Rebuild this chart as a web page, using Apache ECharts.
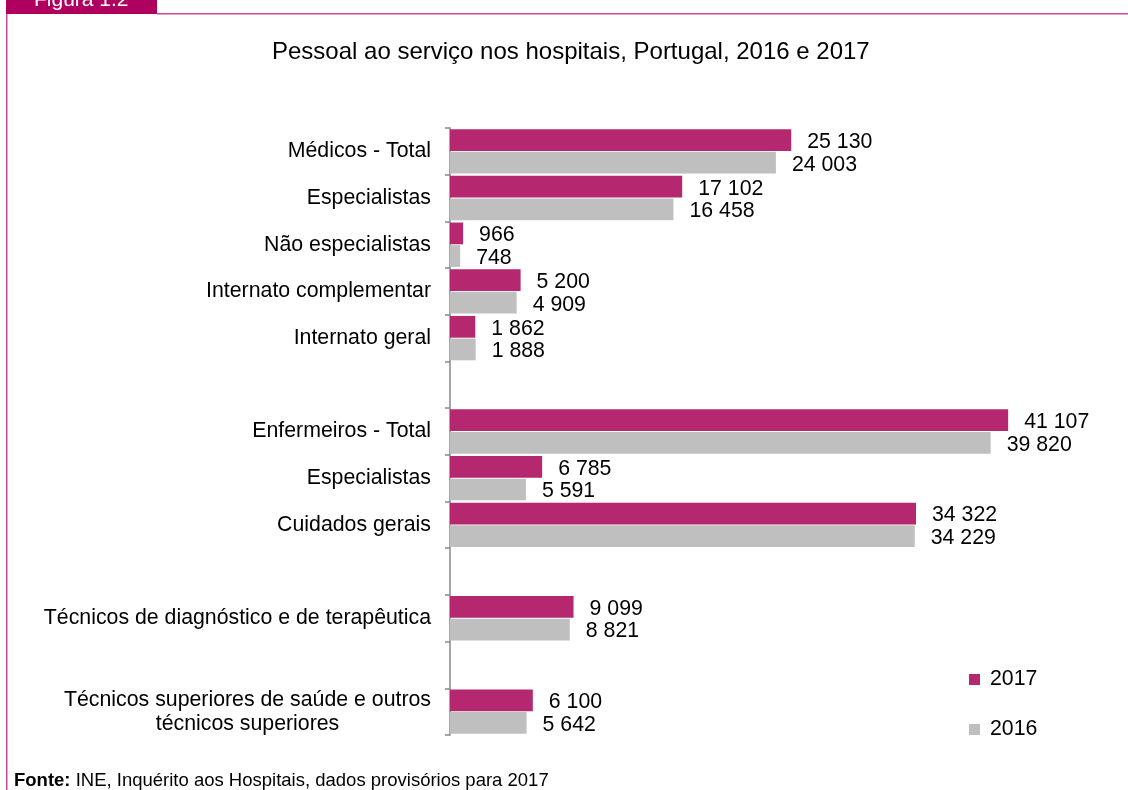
<!DOCTYPE html>
<html>
<head>
<meta charset="utf-8">
<script src="https://cdn.jsdelivr.net/npm/echarts@6/dist/echarts.min.js"></script>
<style>
  html, body { margin: 0; padding: 0; background: #fff; }
  #chart { width: 1128px; height: 790px; }
</style>
</head>
<body>
<div id="chart"></div>
<script>
  // categorias (linhas vazias = separadores entre grupos)
  var categories = [
    'Médicos - Total',
    'Especialistas',
    'Não especialistas',
    'Internato complementar',
    'Internato geral',
    '',
    'Enfermeiros - Total',
    'Especialistas',
    'Cuidados gerais',
    '',
    'Técnicos de diagnóstico e de terapêutica',
    '',
    'Técnicos superiores de saúde e outros\ntécnicos superiores'
  ];
  var values2017 = [25130, 17102, 966, 5200, 1862, null, 41107, 6785, 34322, null, 9099, null, 6100];
  var values2016 = [24003, 16458, 748, 4909, 1888, null, 39820, 5591, 34229, null, 8821, null, 5642];
  var seriesNames = ['2017', '2016'];

  var FONT = '"Liberation Sans", Arial, sans-serif';
  var FS = 21.3;
  var PINK = '#B5276F';
  var GREY = '#BFBFBF';
  var FRAME = '#C8489A';

  // 25130 -> "25 130"
  function fmt(v) {
    return String(v).replace(/\B(?=(\d{3})+(?!\d))/g, ' ');
  }

  function barLabel() {
    return {
      show: true,
      position: 'right',
      distance: 16,
      offset: [0, 2],
      color: '#000',
      fontFamily: FONT,
      fontSize: FS,
      formatter: function (p) { return fmt(p.value); }
    };
  }

  var chart = echarts.init(document.getElementById('chart'));
  chart.setOption({
    animation: false,
    backgroundColor: '#fff',
    title: {
      text: 'Pessoal ao serviço nos hospitais, Portugal, 2016 e 2017',
      left: 267,
      top: 35,
      textStyle: { fontFamily: FONT, fontSize: 24, fontWeight: 'normal', color: '#000' }
    },
    legend: {
      orient: 'vertical',
      left: 969,
      top: 669,
      padding: 0,
      itemWidth: 11,
      itemHeight: 11,
      itemGap: 29,
      icon: 'rect',
      data: seriesNames,
      textStyle: { fontFamily: FONT, fontSize: FS, lineHeight: 20, color: '#000', padding: [0, 0, 0, 5] }
    },
    grid: { left: 450, right: 67, top: 128, bottom: 55, containLabel: false },
    xAxis: {
      type: 'value',
      min: 0,
      max: 45000,
      show: false
    },
    yAxis: {
      type: 'category',
      inverse: true,
      data: categories,
      axisLine: { show: true, lineStyle: { color: '#888', width: 1.5 } },
      axisTick: { show: true, alignWithLabel: false, length: 5, lineStyle: { color: '#888', width: 1.5 } },
      axisLabel: {
        interval: 0,
        margin: 19,
        color: '#000',
        fontFamily: FONT,
        fontSize: FS,
        formatter: function (v) {
          return v.split('\n').map(function (s) { return '{c|' + s + '}'; }).join('\n');
        },
        rich: {
          c: { align: 'center', fontFamily: FONT, fontSize: FS, lineHeight: 24, color: '#000' }
        }
      }
    },
    series: [
      {
        name: seriesNames[0],
        type: 'bar',
        data: values2017,
        barCategoryGap: '5%',
        barGap: '4%',
        itemStyle: { color: PINK },
        label: barLabel()
      },
      {
        name: seriesNames[1],
        type: 'bar',
        data: values2016,
        itemStyle: { color: GREY },
        label: barLabel()
      }
    ],
    graphic: [
      // moldura da figura
      { type: 'rect', shape: { x: 157, y: 13, width: 971, height: 1.5 }, style: { fill: FRAME }, silent: true },
      { type: 'rect', shape: { x: 6, y: 13, width: 1.5, height: 777 }, style: { fill: FRAME }, silent: true },
      { type: 'rect', shape: { x: 6, y: 0, width: 151, height: 14 }, style: { fill: '#B0005F' }, silent: true },
      {
        type: 'text', left: 34, top: -10, silent: true,
        style: { text: 'Figura 1.2', fill: '#fff', font: '21px ' + FONT }
      },
      {
        type: 'text', left: 14, top: 771, silent: true,
        style: {
          text: '{b|Fonte:} INE, Inquérito aos Hospitais, dados provisórios para 2017',
          fill: '#000',
          font: '18.5px ' + FONT,
          rich: { b: { fontWeight: 'bold', fontFamily: FONT, fontSize: 18.5, fill: '#000' } }
        }
      }
    ]
  });
</script>
</body>
</html>
